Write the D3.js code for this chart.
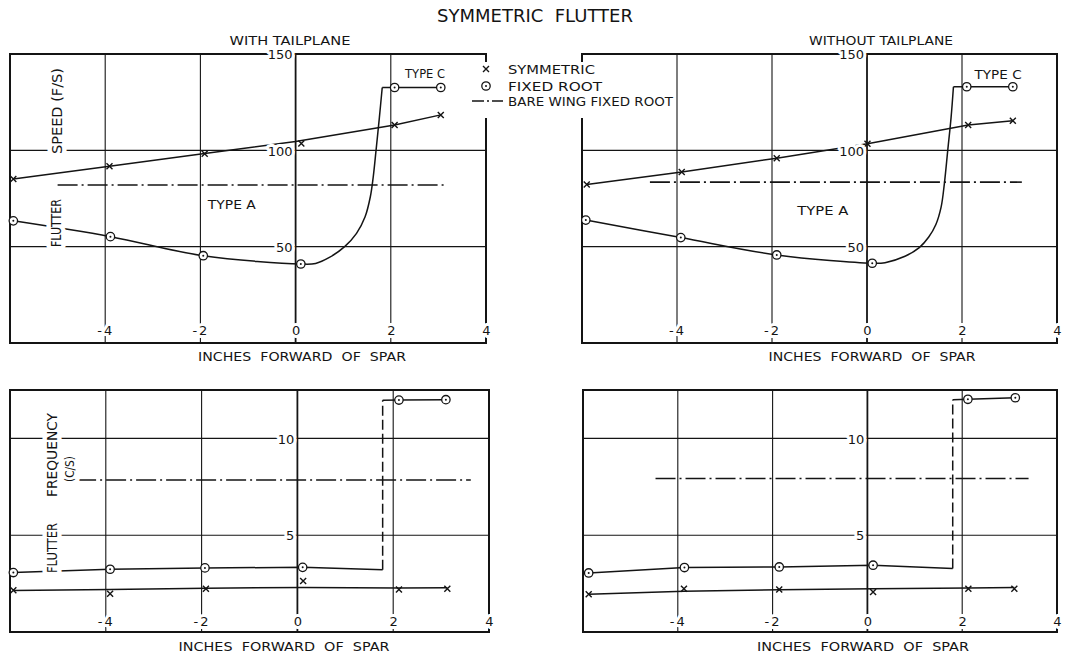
<!DOCTYPE html>
<html>
<head>
<meta charset="utf-8">
<script src="https://cdn.jsdelivr.net/npm/d3@7"></script>
<style>
  body { margin: 0; background: #fff; }
  svg { display: block; }
  text { font-family: "DejaVu Sans", sans-serif; fill: #141414; }
  .halo { paint-order: stroke; stroke: #fff; stroke-width: 6px; stroke-linejoin: round; }
  .halo-wide { paint-order: stroke; stroke: #fff; stroke-width: 9px; stroke-linejoin: round; }
</style>
</head>
<body>
<svg id="chart" width="1066" height="656"></svg>
<script>
// ---- axis ticks ----
const xTicks = [-4, -2, 0, 2, 4];          // inches forward of spar
const speedTicks = [50, 100, 150];         // flutter speed, ft/s
const freqTicks = [5, 10];                 // flutter frequency, c/s

// ---- WITH TAILPLANE : flutter speed ----
const wtSpeedSym       = [[-5.93, 85.1], [-3.91, 91.8], [-1.91, 98.2], [0.12, 103.5], [2.08, 113.2], [3.05, 118.4]];
const wtSpeedSymLine   = [[-5.93, 85.1], [-3.91, 91.8], [-1.91, 98.4], [0, 104.6], [2.08, 113.2], [3.05, 118.4]];
const wtSpeedFixed     = [[-5.93, 63.4], [-3.89, 55.2], [-1.94, 45.3], [0.11, 41.0]];
const wtSpeedFixedCurve = [[-5.93, 63.4], [-3.89, 55.2], [-1.94, 45.3], [0.11, 41.0], [0.42, 41.3], [0.71, 44.4],
                           [1.03, 50], [1.28, 56.9], [1.46, 65.5], [1.57, 75.9], [1.63, 86], [1.69, 100], [1.76, 117], [1.82, 132.6]];
const wtSpeedTypeC     = [[2.08, 132.6], [3.05, 132.6]];
const wtSpeedTypeCLine = [[1.82, 132.6], [2.08, 132.6], [3.05, 132.6]];
const wtSpeedBare      = [[-5.0, 82], [3.12, 82]];

// ---- WITHOUT TAILPLANE : flutter speed ----
const woSpeedSym       = [[-5.9, 82.3], [-3.9, 88.8], [-1.9, 95.9], [0.01, 103.4], [2.13, 113.1], [3.07, 115.3]];
const woSpeedSymLine   = [[-5.9, 82.3], [-3.9, 88.8], [-1.9, 95.9], [0.01, 103.4], [2.13, 113.1], [3.07, 115.3]];
const woSpeedFixed     = [[-5.92, 63.8], [-3.92, 54.7], [-1.9, 45.7], [0.11, 41.4]];
const woSpeedFixedCurve = [[-5.92, 63.8], [-3.92, 54.7], [-1.9, 45.7], [0.11, 41.4], [0.38, 41.7], [0.8, 45],
                           [1.1, 49.5], [1.3, 55], [1.45, 61.5], [1.56, 70.5], [1.63, 83], [1.7, 100], [1.77, 117], [1.82, 133]];
const woSpeedTypeC     = [[2.1, 133], [3.07, 133]];
const woSpeedTypeCLine = [[1.82, 133], [2.1, 133], [3.07, 133]];
const woSpeedBare      = [[-4.57, 83.5], [3.26, 83.5]];

// ---- WITH TAILPLANE : flutter frequency ----
const wtFreqSym        = [[-5.93, 2.16], [-3.91, 1.98], [-1.91, 2.24], [0.12, 2.64], [2.12, 2.2], [3.13, 2.24]];
const wtFreqSymLine    = [[-5.93, 2.14], [-3.91, 2.2], [-1.91, 2.26], [0.12, 2.3], [2.12, 2.27], [3.13, 2.28]];
const wtFreqFixed      = [[-5.93, 3.07], [-3.91, 3.24], [-1.93, 3.31], [0.11, 3.34]];
const wtFreqFixedLine  = [[-5.93, 3.07], [-3.91, 3.24], [-1.93, 3.31], [0.11, 3.34], [1.78, 3.22]];
const wtFreqJump       = [[1.78, 3.22], [1.78, 11.97]];
const wtFreqTypeC      = [[2.12, 11.98], [3.1, 12.0]];
const wtFreqTypeCLine  = [[1.78, 11.97], [2.12, 11.98], [3.1, 12.0]];
const wtFreqBare       = [[-4.62, 7.85], [3.62, 7.85]];

// ---- WITHOUT TAILPLANE : flutter frequency ----
const woFreqSym        = [[-5.88, 1.95], [-3.87, 2.24], [-1.86, 2.2], [0.12, 2.07], [2.13, 2.24], [3.1, 2.24]];
const woFreqSymLine    = [[-5.88, 1.95], [-3.87, 2.1], [-1.86, 2.18], [0.12, 2.24], [2.13, 2.27], [3.1, 2.3]];
const woFreqFixed      = [[-5.88, 3.05], [-3.86, 3.33], [-1.86, 3.36], [0.12, 3.45]];
const woFreqFixedLine  = [[-5.88, 3.05], [-3.86, 3.33], [-1.86, 3.36], [0.12, 3.45], [1.8, 3.28]];
const woFreqJump       = [[1.8, 3.28], [1.8, 12.0]];
const woFreqTypeC      = [[2.12, 12.02], [3.12, 12.1]];
const woFreqTypeCLine  = [[1.8, 12.0], [2.12, 12.02], [3.12, 12.1]];
const woFreqBare       = [[-4.47, 7.93], [3.4, 7.93]];

// ---- text ----
const titleText = "SYMMETRIC  FLUTTER";
const panelTitles = ["WITH TAILPLANE", "WITHOUT TAILPLANE"];
const xAxisTitle = "INCHES  FORWARD  OF  SPAR";
const legendLabels = ["SYMMETRIC", "FIXED ROOT", "BARE WING FIXED ROOT"];

const svg = d3.select("#chart");
const INK = "#141414";

// ---- panel layout ----
const panels = [
  { left: 10,  right: 486,  top: 54,  bottom: 343, yMax: 150,  yTicks: speedTicks,
    sym: wtSpeedSym, symLine: wtSpeedSymLine, fixed: wtSpeedFixed, fixedCurve: wtSpeedFixedCurve,
    typeC: wtSpeedTypeC, typeCLine: wtSpeedTypeCLine, bare: wtSpeedBare, curved: true,
    xLabelY: 335, axisTitle: { x: 302, y: 361, len: 208 },
    yTitles: [{ t: "SPEED (F/S)", x: 57, y: 111, len: 86, fs: 14 }, { t: "FLUTTER", x: 56, y: 223, len: 48, fs: 14 }],
    notes: [{ t: "TYPE C", x: 2.72, y: 137.5, len: 40 }, { t: "TYPE A", x: -1.34, y: 69.5, len: 48 }] },
  { left: 582, right: 1057, top: 54,  bottom: 343, yMax: 150,  yTicks: speedTicks,
    sym: woSpeedSym, symLine: woSpeedSymLine, fixed: woSpeedFixed, fixedCurve: woSpeedFixedCurve,
    typeC: woSpeedTypeC, typeCLine: woSpeedTypeCLine, bare: woSpeedBare, curved: true,
    xLabelY: 335, axisTitle: { x: 872, y: 361, len: 207 }, yTitles: [],
    notes: [{ t: "TYPE C", x: 2.76, y: 137, len: 47 }, { t: "TYPE A", x: -0.93, y: 66.4, len: 51 }] },
  { left: 10,  right: 489,  top: 390, bottom: 632, yMax: 12.5, yTicks: freqTicks,
    sym: wtFreqSym, symLine: wtFreqSymLine, fixed: wtFreqFixed, fixedCurve: wtFreqFixedLine,
    typeC: wtFreqTypeC, typeCLine: wtFreqTypeCLine, bare: wtFreqBare, jump: wtFreqJump, curved: false,
    xLabelY: 626, axisTitle: { x: 284, y: 651, len: 211 },
    yTitles: [{ t: "FREQUENCY", x: 52, y: 455, len: 84, fs: 14 }, { t: "FLUTTER", x: 52, y: 548, len: 50, fs: 14 },
              { t: "(C/S)", x: 69, y: 469, len: 26, fs: 13 }],
    notes: [] },
  { left: 583, right: 1057, top: 390, bottom: 632, yMax: 12.5, yTicks: freqTicks,
    sym: woFreqSym, symLine: woFreqSymLine, fixed: woFreqFixed, fixedCurve: woFreqFixedLine,
    typeC: woFreqTypeC, typeCLine: woFreqTypeCLine, bare: woFreqBare, jump: woFreqJump, curved: false,
    xLabelY: 626, axisTitle: { x: 863, y: 651, len: 212 }, yTitles: [], notes: [] }
];

function crossPath(s) { return `M${-s},${-s}L${s},${s}M${-s},${s}L${s},${-s}`; }

function drawPanel(p) {
  const g = svg.append("g");
  const x = d3.scaleLinear().domain([-6, 4]).range([p.left, p.right]);
  const y = d3.scaleLinear().domain([0, p.yMax]).range([p.bottom, p.top]);
  const line = d3.line().x(d => x(d[0])).y(d => y(d[1]));

  // grid
  g.append("g").selectAll("line").data(xTicks.filter(v => v > -6 && v < 4)).join("line")
    .attr("x1", d => x(d)).attr("x2", d => x(d)).attr("y1", p.top).attr("y2", p.bottom)
    .attr("stroke", INK).attr("stroke-width", d => d === 0 ? 1.8 : 1.1);
  g.append("g").selectAll("line").data(p.yTicks.filter(v => v < p.yMax)).join("line")
    .attr("x1", p.left).attr("x2", p.right).attr("y1", d => y(d)).attr("y2", d => y(d))
    .attr("stroke", INK).attr("stroke-width", 1.1);

  // frame
  g.append("rect").attr("x", p.left).attr("y", p.top)
    .attr("width", p.right - p.left).attr("height", p.bottom - p.top)
    .attr("fill", "none").attr("stroke", INK).attr("stroke-width", 2);

  // bare wing, fixed root (chain line)
  g.append("path").attr("d", line(p.bare)).attr("fill", "none")
    .attr("stroke", INK).attr("stroke-width", 1.6).attr("stroke-dasharray", "20,4,2,4");

  // symmetric
  g.append("path").attr("d", line(p.symLine)).attr("fill", "none")
    .attr("stroke", INK).attr("stroke-width", 1.5);

  // fixed root
  const fixedGen = d3.line().x(d => x(d[0])).y(d => y(d[1]))
    .curve(p.curved ? d3.curveCatmullRom.alpha(0.5) : d3.curveLinear);
  g.append("path").attr("d", fixedGen(p.fixedCurve)).attr("fill", "none")
    .attr("stroke", INK).attr("stroke-width", 1.5);
  g.append("path").attr("d", line(p.typeCLine)).attr("fill", "none")
    .attr("stroke", INK).attr("stroke-width", 1.5);
  if (p.jump) {
    g.append("path").attr("d", line(p.jump)).attr("fill", "none")
      .attr("stroke", INK).attr("stroke-width", 1.5).attr("stroke-dasharray", "10,4");
  }

  // markers
  const circles = g.append("g").selectAll("g").data(p.fixed.concat(p.typeC)).join("g")
    .attr("transform", d => `translate(${x(d[0])},${y(d[1])})`);
  circles.append("circle").attr("r", 4.2).attr("fill", "#fff").attr("stroke", INK).attr("stroke-width", 1.3);
  circles.append("circle").attr("r", 1).attr("fill", INK);
  g.append("g").selectAll("path").data(p.sym).join("path")
    .attr("transform", d => `translate(${x(d[0])},${y(d[1])})`)
    .attr("d", crossPath(3)).attr("stroke", INK).attr("stroke-width", 1.4).attr("fill", "none");

  // tick labels (drawn with a white halo so the rulings break around them)
  const xa = g.append("g").attr("transform", `translate(0,${p.xLabelY})`)
    .call(d3.axisBottom(x).tickValues(xTicks).tickSize(0).tickPadding(0)
      .tickFormat(d => d < 0 ? "-" + Math.abs(d) : String(d)));
  xa.select(".domain").remove();
  xa.selectAll("text").attr("class", "halo").attr("y", 0).attr("dy", 0)
    .attr("font-size", 13).style("letter-spacing", d => d < 0 ? "2px" : "0px");

  const ya = g.append("g").attr("transform", `translate(${x(0) - 1},0)`)
    .call(d3.axisLeft(y).tickValues(p.yTicks).tickSize(0).tickPadding(2));
  ya.select(".domain").remove();
  ya.selectAll("text").attr("class", "halo").attr("font-size", 13).attr("dy", "0.36em");

  // axis titles
  g.append("text").attr("class", "halo").attr("x", p.axisTitle.x).attr("y", p.axisTitle.y)
    .attr("text-anchor", "middle").attr("font-size", 12.5)
    .attr("textLength", p.axisTitle.len).attr("lengthAdjust", "spacingAndGlyphs")
    .style("white-space", "pre").text(xAxisTitle);

  p.yTitles.forEach(t => {
    g.append("text").attr("class", "halo-wide")
      .attr("transform", `translate(${t.x},${t.y}) rotate(-90)`)
      .attr("text-anchor", "middle").attr("dy", "0.36em").attr("font-size", t.fs)
      .attr("textLength", t.len).attr("lengthAdjust", "spacingAndGlyphs").text(t.t);
  });

  p.notes.forEach(n => {
    g.append("text").attr("class", "halo").attr("x", x(n.x)).attr("y", y(n.y))
      .attr("text-anchor", "middle").attr("font-size", 12.5)
      .attr("textLength", n.len).attr("lengthAdjust", "spacingAndGlyphs").text(n.t);
  });
}

panels.forEach(drawPanel);

// ---- headings ----
svg.append("text").attr("x", 535).attr("y", 22).attr("text-anchor", "middle")
  .attr("font-size", 17).attr("textLength", 196).attr("lengthAdjust", "spacingAndGlyphs")
  .style("white-space", "pre").text(titleText);
svg.append("text").attr("x", 290).attr("y", 45).attr("text-anchor", "middle")
  .attr("font-size", 13).attr("textLength", 121).attr("lengthAdjust", "spacingAndGlyphs")
  .text(panelTitles[0]);
svg.append("text").attr("x", 881).attr("y", 45).attr("text-anchor", "middle")
  .attr("font-size", 13).attr("textLength", 144).attr("lengthAdjust", "spacingAndGlyphs")
  .style("white-space", "pre").text(panelTitles[1]);

// ---- legend (sits across the gap between the two speed frames) ----
const legend = svg.append("g");
legend.append("rect").attr("x", 476).attr("y", 62).attr("width", 196).attr("height", 56).attr("fill", "#fff");
const legendRows = [
  { y: 69, len: 87 },
  { y: 86, len: 94 },
  { y: 101, len: 165 }
];
legend.append("path").attr("transform", `translate(486,${legendRows[0].y})`)
  .attr("d", crossPath(3)).attr("stroke", INK).attr("stroke-width", 1.4).attr("fill", "none");
const lc = legend.append("g").attr("transform", `translate(486,${legendRows[1].y})`);
lc.append("circle").attr("r", 4.2).attr("fill", "#fff").attr("stroke", INK).attr("stroke-width", 1.3);
lc.append("circle").attr("r", 1).attr("fill", INK);
legend.append("line").attr("x1", 472).attr("x2", 503).attr("y1", legendRows[2].y).attr("y2", legendRows[2].y)
  .attr("stroke", INK).attr("stroke-width", 1.6).attr("stroke-dasharray", "12,3,2,3");
legend.selectAll("text").data(legendLabels).join("text")
  .attr("x", 508).attr("y", (d, i) => legendRows[i].y).attr("dy", "0.36em")
  .attr("font-size", 12.5).attr("textLength", (d, i) => legendRows[i].len)
  .attr("lengthAdjust", "spacingAndGlyphs").text(d => d);
</script>
</body>
</html>
